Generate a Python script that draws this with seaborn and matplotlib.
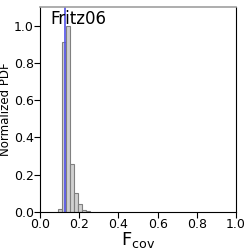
import numpy as np
import pandas as pd
import matplotlib
matplotlib.use("Agg")
import matplotlib.pyplot as plt
import seaborn as sns

# histogram (bin edges and normalized heights)
bin_edges = [0.093, 0.113, 0.133, 0.153, 0.173, 0.193, 0.213, 0.233, 0.253]
bin_heights = [0.015, 0.91, 1.0, 0.257, 0.10, 0.043, 0.012, 0.004]
ref_value = 0.127
label = "Fritz06"

sns.set_style("ticks", {"text.color": "black", "axes.labelcolor": "black",
                        "xtick.color": "black", "ytick.color": "black"})
plt.rcParams['font.family'] = ['DejaVu Sans']
plt.rcParams['mathtext.fontset'] = 'dejavusans'

centers = [(bin_edges[i] + bin_edges[i + 1]) / 2 for i in range(len(bin_heights))]
df = pd.DataFrame({"fcov": centers, "w": bin_heights})

fig = plt.figure(figsize=(2.49, 2.49), dpi=100)
ax = fig.add_axes([0.161, 0.149, 0.787, 0.823])

sns.histplot(data=df, x="fcov", weights="w", bins=bin_edges, ax=ax,
             color="#d0d0d0", edgecolor="#808080", linewidth=0.8, alpha=1.0)
ax.axvline(ref_value, color="#5050e8", linewidth=1.2)

ax.text(0.05, 0.985, label, transform=ax.transAxes, va="top", ha="left",
        fontsize=12, color="black")

ax.set_xlim(0, 1)
ax.set_ylim(0, 1.1)
ax.set_xticks([0.0, 0.2, 0.4, 0.6, 0.8, 1.0])
ax.set_yticks([0.0, 0.2, 0.4, 0.6, 0.8, 1.0])
ax.tick_params(labelsize=9, length=4, width=0.8, color="black", labelcolor="black", pad=0.5)
ax.set_xlabel(r"$\mathregular{F_{cov}}$", fontsize=13, labelpad=-1, color="black")
ax.set_ylabel("Normalized PDF", fontsize=8.5, labelpad=1, color="black")

for s in ["left", "bottom", "right"]:
    ax.spines[s].set_color("black")
    ax.spines[s].set_linewidth(0.8)
ax.spines["top"].set_color("#a0a0a0")
ax.spines["top"].set_linewidth(1.2)

fig.savefig("out.png", dpi=100)
